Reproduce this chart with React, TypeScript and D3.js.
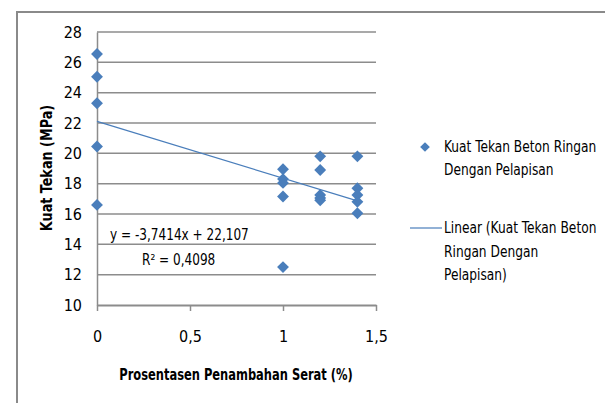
import { useEffect, useRef } from "react";
import * as d3 from "d3";

// data
const serat: number[] = [0, 0, 0, 0, 0, 1, 1, 1, 1, 1, 1.2, 1.2, 1.2, 1.2, 1.2, 1.4, 1.4, 1.4, 1.4, 1.4];
const kuatTekan: number[] = [
  26.55, 25.05, 23.3, 20.45, 16.6,
  18.95, 18.3, 18.05, 17.15, 12.5,
  19.8, 18.9, 17.25, 17.05, 16.9,
  19.8, 17.7, 17.25, 16.8, 16.05,
];
const yTicks: number[] = [10, 12, 14, 16, 18, 20, 22, 24, 26, 28];
const xTicks: number[] = [0, 0.5, 1, 1.5];
const slope = -3.7414;
const intercept = 22.107;
const legendScatter: string[] = ["Kuat Tekan Beton Ringan", "Dengan Pelapisan"];
const legendLinear: string[] = ["Linear (Kuat Tekan Beton", "Ringan Dengan", "Pelapisan)"];

const fmt = (v: number) => String(v).replace(".", ",");

function ScatterChart() {
  const svgRef = useRef<SVGSVGElement>(null);

  useEffect(() => {
    if (!svgRef.current) return;
    const svg = d3.select(svgRef.current);
    svg.selectAll("*").remove();

    const width = 605;
    const height = 403;
    svg.attr("width", width).attr("height", height);

    const font = "'DejaVu Sans Condensed', 'DejaVu Sans', sans-serif";
    const blue = "#4a7ebb";
    const grid = "#8c8c8c";

    // narrow text like the original's condensed font
    const label = (
      sel: d3.Selection<SVGSVGElement, unknown, null, undefined>,
      tx: number, ty: number, txt: string, size: number, sx: number,
      bold = false, anchor = "start", rot = 0,
    ) =>
      sel.append("text")
        .attr("transform", `translate(${tx},${ty}) rotate(${rot}) scale(${sx},1)`)
        .attr("text-anchor", anchor)
        .attr("font-family", font).attr("font-size", size)
        .attr("font-weight", bold ? "bold" : "normal")
        .text(txt);

    // outer chart frame (cropped on right and bottom)
    svg.append("rect")
      .attr("x", 17).attr("y", 12)
      .attr("width", 620).attr("height", 420)
      .attr("fill", "white")
      .attr("stroke", "#8a8a8a").attr("stroke-width", 2);

    const x = d3.scaleLinear().domain([0, 1.5]).range([97, 376]);
    const y = d3.scaleLinear().domain([10, 28]).range([305, 32]);

    // gridlines
    svg.append("g")
      .selectAll("line")
      .data(yTicks.slice(1))
      .join("line")
      .attr("x1", x(0)).attr("x2", x(1.5))
      .attr("y1", (d) => y(d)).attr("y2", (d) => y(d))
      .attr("stroke", grid).attr("stroke-width", 1.5);

    // y axis
    const yAxis = svg.append("g")
      .attr("transform", `translate(${x(0)},0)`)
      .call(d3.axisLeft(y).tickValues(yTicks).tickSize(0).tickPadding(15));
    yAxis.select(".domain").attr("stroke", grid).attr("stroke-width", 1.5);
    yAxis.selectAll("text").attr("font-family", font).attr("font-size", 16).attr("fill", "#000");

    // x axis
    const xAxis = svg.append("g")
      .attr("transform", `translate(0,${y(10)})`)
      .call(d3.axisBottom(x).tickValues(xTicks).tickSize(6).tickSizeOuter(0).tickPadding(20).tickFormat((d) => fmt(d as number)));
    xAxis.select(".domain").attr("stroke", grid).attr("stroke-width", 2);
    xAxis.selectAll("line").attr("stroke", grid).attr("stroke-width", 1.5);
    xAxis.selectAll("text").attr("font-family", font).attr("font-size", 16).attr("fill", "#000");

    // trendline
    const xr = d3.extent(serat) as [number, number];
    svg.append("line")
      .attr("x1", x(xr[0])).attr("y1", y(slope * xr[0] + intercept))
      .attr("x2", x(xr[1])).attr("y2", y(slope * xr[1] + intercept))
      .attr("stroke", blue).attr("stroke-width", 1.2);

    // points
    const diamond = d3.symbol().type(d3.symbolDiamond2).size(90);
    svg.append("g")
      .selectAll("path")
      .data(serat.map((s, i) => [s, kuatTekan[i]]))
      .join("path")
      .attr("d", diamond)
      .attr("transform", (d) => `translate(${x(d[0])},${y(d[1])})`)
      .attr("fill", blue);

    // equation
    label(svg, 110, 240, `y = ${fmt(slope)}x + ${fmt(intercept)}`, 16, 0.84);
    label(svg, 142, 265, "R² = 0,4098", 16, 0.84);

    // axis titles
    label(svg, 52, 168, "Kuat Tekan (MPa)", 15, 0.95, true, "middle", -90);
    label(svg, 236, 380, "Prosentasen Penambahan Serat (%)", 15, 0.85, true, "middle");

    // legend
    svg.append("path")
      .attr("d", d3.symbol().type(d3.symbolDiamond2).size(60)())
      .attr("transform", "translate(425,147)")
      .attr("fill", blue);
    legendScatter.forEach((t, i) => label(svg, 444, 152 + i * 23, t, 16, 0.85));

    svg.append("line")
      .attr("x1", 410).attr("x2", 442).attr("y1", 228).attr("y2", 228)
      .attr("stroke", blue).attr("stroke-width", 1.2);
    legendLinear.forEach((t, i) => label(svg, 444, 233 + i * 23.5, t, 16, 0.85));
  }, []);

  return <svg ref={svgRef} style={{ position: "absolute", left: 0, top: 0 }}></svg>;
}

export default function App() {
  return <ScatterChart />;
}
